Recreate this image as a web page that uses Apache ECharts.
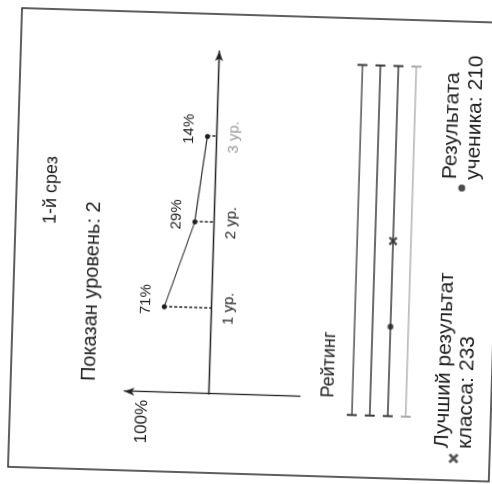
<!DOCTYPE html>
<html lang="ru">
<head>
    <meta charset="UTF-8">
    <title>1-й срез</title>
    <script src="https://cdn.jsdelivr.net/npm/echarts@6/dist/echarts.min.js"></script>
    <style>
        html, body { margin: 0; padding: 0; width: 492px; height: 484px; overflow: hidden; background: #fff; }
        /* лист лежит боком (-90°) и чуть перекошен при сканировании */
        #sheet {
            position: absolute; left: 0; top: 0;
            width: 484px; height: 500px;
            transform-origin: 0 0;
            transform: translate(246px, 242px) rotate(1.75deg) translate(-246px, -242px) translate(0px, 484px) rotate(-90deg);
        }
    </style>
</head>
<body>
<div id="sheet"></div>
<script type="text/javascript">
    var levels = ['1 ур.', '2 ур.', '3 ур.'];
    var levelShares = [71, 29, 14];
    var shownLevel = 2;
    var percentTicks = [100];

    var ratingRows = [0, 1, 2, 3];
    var ratingRange = [186, 280];
    var studentRow = 2;
    var studentScore = 210;
    var classBest = 233;

    var FONT = '"Liberation Sans", Arial, sans-serif';
    var INK = '#1e1e1e';
    var AXIS = {color: '#222', width: 1.3};
    var crossPath = 'path://M2,0L5,3L8,0L10,2L7,5L10,8L8,10L5,7L2,10L0,8L3,5L0,2Z';
    var rowColors = ['#3a3a3a', '#3a3a3a', '#3a3a3a', '#a8a8a8'];

    var bestName = 'Лучший результат\nкласса: ' + classBest;
    var studentName = 'Результата\nученика: ' + studentScore;

    var series = [{
        type: 'line',
        data: levelShares.map(function (v, i) { return [i + 1, v]; }),
        symbol: 'circle',
        symbolSize: 5,
        itemStyle: {color: INK},
        lineStyle: {color: '#333', width: 1.2},
        label: {
            show: true, position: 'top', distance: 8, offset: [7, 0],
            formatter: function (p) { return p.value[1] + '%'; },
            fontSize: 15, color: INK, fontFamily: FONT
        },
        markLine: {
            silent: true, symbol: 'none', label: {show: false},
            lineStyle: {type: [3, 2], color: '#222', width: 1.5},
            data: levelShares.map(function (v, i) {
                return [{coord: [i + 1, v]}, {coord: [i + 1, 0]}];
            })
        },
        z: 3
    }];

    ratingRows.forEach(function (r) {
        series.push({
            type: 'line', xAxisIndex: 1, yAxisIndex: 1, silent: true,
            data: [[ratingRange[0], r], [ratingRange[1], r]],
            symbol: 'rect', symbolSize: [2, 10],
            itemStyle: {color: rowColors[r]},
            lineStyle: {color: rowColors[r], width: 1.3}
        });
    });

    series.push({
        name: bestName, type: 'scatter', xAxisIndex: 1, yAxisIndex: 1,
        data: [[classBest, studentRow]],
        symbol: crossPath, symbolSize: 9,
        itemStyle: {color: '#2a2a2a'}, z: 4
    });
    series.push({
        name: studentName, type: 'scatter', xAxisIndex: 1, yAxisIndex: 1,
        data: [[studentScore, studentRow]],
        symbol: 'circle', symbolSize: 6,
        itemStyle: {color: INK}, z: 4
    });

    var legendText = {fontSize: 21, lineHeight: 23, color: INK, fontFamily: FONT};

    var chart = echarts.init(document.getElementById('sheet'));
    chart.setOption({
        animation: false,
        backgroundColor: '#fff',
        title: [{
            text: '1-й срез', left: 288, top: 41, textAlign: 'center', padding: 0,
            textStyle: {fontSize: 18, fontWeight: 'normal', color: INK, fontFamily: FONT}
        }, {
            text: 'Показан уровень: ' + shownLevel, left: 188, top: 83, textAlign: 'center', padding: 0,
            textStyle: {fontSize: 20, fontWeight: 'normal', color: INK, fontFamily: FONT}
        }, {
            text: 'Рейтинг', left: 122, top: 324, textAlign: 'center', padding: 0,
            textStyle: {fontSize: 18, fontWeight: 'normal', color: INK, fontFamily: FONT}
        }],
        legend: [{
            data: [{name: bestName, icon: crossPath}],
            left: 27, top: 437, padding: 0, itemWidth: 10, itemHeight: 10,
            selectedMode: false, textStyle: legendText
        }, {
            data: [{name: studentName, icon: 'circle'}],
            left: 299, top: 437, padding: 0, itemWidth: 7, itemHeight: 7,
            selectedMode: false, textStyle: legendText
        }],
        graphic: [{
            type: 'rect', silent: true,
            shape: {x: 10, y: 15, width: 459, height: 481},
            style: {fill: 'none', stroke: '#2a2a2a', lineWidth: 1.5}
        }],
        grid: [
            {left: 89, top: 129, width: 343, height: 84.5, outerBoundsMode: 'none'},
            {left: 72.3, top: 357, width: 350.2, height: 54, outerBoundsMode: 'none'},
            // продолжение оси процентов ниже нуля
            {left: 89, top: 213.5, width: 10, height: 91.2, outerBoundsMode: 'none'}
        ],
        xAxis: [{
            gridIndex: 0, type: 'value', min: 0, max: 4,
            axisLine: {show: true, onZero: false, symbol: ['none', 'arrow'], symbolSize: [6, 10], lineStyle: AXIS},
            axisTick: {show: false},
            splitLine: {show: false},
            axisLabel: {
                customValues: [1, 2, 3], margin: 10,
                formatter: function (v) {
                    var t = levels[v - 1];
                    return v > shownLevel ? '{dim|' + t + '}' : t;
                },
                fontSize: 15, color: INK, fontFamily: FONT,
                rich: {dim: {fontSize: 15, color: '#9a9a9a', fontFamily: FONT}}
            }
        }, {
            gridIndex: 1, type: 'value', min: ratingRange[0], max: ratingRange[1], show: false
        }, {
            gridIndex: 2, type: 'value', min: 0, max: 1, show: false
        }],
        yAxis: [{
            gridIndex: 0, type: 'value', min: 0, max: 127,
            axisLine: {show: true, onZero: false, symbol: ['none', 'arrow'], symbolSize: [6, 10], lineStyle: AXIS},
            axisTick: {show: false},
            splitLine: {show: false},
            axisLabel: {
                customValues: percentTicks, formatter: '{value}%', margin: 8,
                fontSize: 17, color: INK, fontFamily: FONT
            }
        }, {
            gridIndex: 1, type: 'value', min: 0, max: 3, inverse: true, show: false
        }, {
            gridIndex: 2, type: 'value', min: 0, max: 1,
            axisLine: {show: true, onZero: false, lineStyle: AXIS},
            axisTick: {show: false}, axisLabel: {show: false}, splitLine: {show: false}
        }],
        series: series
    });
</script>
</body>
</html>
